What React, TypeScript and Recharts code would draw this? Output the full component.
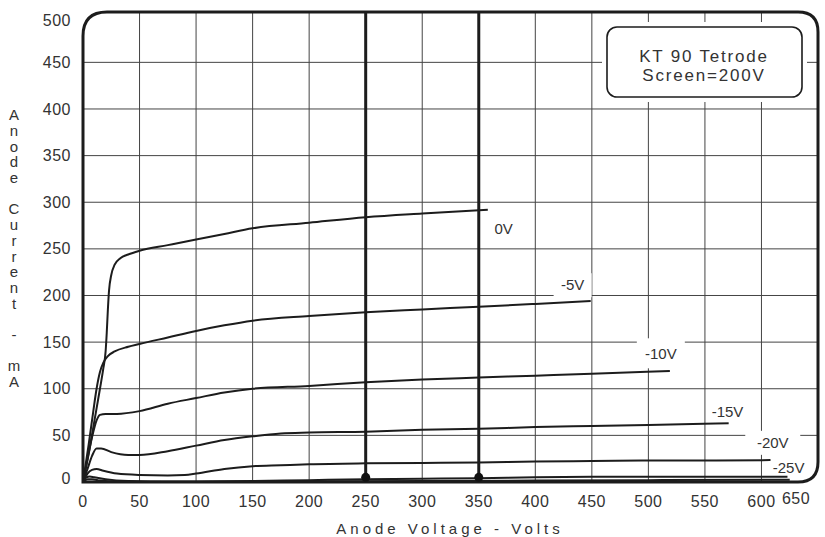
import {
  LineChart,
  Line,
  XAxis,
  YAxis,
  CartesianGrid,
  ReferenceLine,
  ReferenceDot,
  Customized,
} from "recharts"

// Anode voltage (V) / anode current (mA)
const X_TICKS = [0, 50, 100, 150, 200, 250, 300, 350, 400, 450, 500, 550, 600, 650]
const Y_TICKS = [0, 50, 100, 150, 200, 250, 300, 350, 400, 450, 500]

const GRID_0V = [
  [0, 0], [5, 30], [10, 65], [15, 100], [18, 122], [20, 140], [21, 160], [22, 185],
  [23, 205], [25, 222], [28, 233], [33, 240], [40, 244], [50, 248], [75, 254],
  [100, 260], [125, 266], [150, 272], [200, 278], [250, 284], [300, 288], [358, 292],
]
const GRID_5V = [
  [0, 0], [5, 40], [9, 75], [12, 100], [15, 118], [18, 128], [22, 135], [28, 140],
  [40, 145], [50, 148], [75, 155], [100, 162], [125, 168], [150, 173], [200, 178],
  [250, 182], [300, 185], [350, 188], [400, 191], [449, 194],
]
const GRID_10V = [
  [0, 0], [4, 25], [8, 48], [12, 66], [15, 72], [20, 73], [30, 73], [50, 76], [75, 84],
  [100, 90], [125, 96], [150, 100], [200, 103], [250, 107], [300, 110], [350, 112],
  [400, 114], [450, 116], [519, 119],
]
const GRID_15V = [
  [0, 0], [4, 14], [8, 28], [12, 36], [16, 36], [25, 32], [40, 29], [50, 29], [75, 33],
  [100, 39], [125, 45], [150, 49], [175, 52], [200, 53], [250, 54], [300, 56],
  [350, 57], [400, 59], [450, 60], [500, 61], [571, 63],
]
const GRID_20V = [
  [0, 0], [4, 9], [8, 13], [12, 14], [18, 12], [30, 9], [50, 7.5], [75, 7], [90, 7.5],
  [100, 9], [125, 14], [150, 17], [175, 18], [200, 19], [250, 20], [300, 20.5],
  [350, 21], [400, 22], [450, 22.5], [500, 23], [550, 23], [608, 23.5],
]
const GRID_25V = [
  [0, 0], [3, 5], [6, 6], [10, 5], [20, 3], [40, 1], [60, 0.5], [100, 0.5], [150, 1],
  [200, 2], [250, 3], [300, 3.5], [350, 4], [400, 5], [450, 5.5], [500, 5.5],
  [550, 5.6], [623, 5.7],
]
const GRID_30V = [
  [0, 0], [4, 3], [8, 3], [15, 1.5], [30, 0.3], [100, 0], [200, 0.5], [300, 1],
  [400, 1.5], [500, 2], [625, 2.5],
]

const CURVES = [GRID_0V, GRID_5V, GRID_10V, GRID_15V, GRID_20V, GRID_25V, GRID_30V]

const CURVE_LABELS = ["0V", "-5V", "-10V", "-15V", "-20V", "-25V"]
const LABEL_X = [372, 433, 511, 570, 610, 624]
const LABEL_Y = [272, 211, 138, 75, 42, 15]
const LABEL_BOX_W = [30, 38, 48, 40, 55, 40]
const LABEL_BOX_H = [20, 24, 30, 20, 24, 14]

const LOAD_VOLTS = [250, 350]

const TITLE_LINES = ["KT 90 Tetrode", "Screen=200V"]
const Y_LABEL = "Anode Current - mA"
const X_LABEL = "Anode Voltage - Volts"

const W = 825
const H = 537
const MARGIN = { top: 12, right: 7, bottom: 0, left: 0 }
const Y_AXIS_W = 83
const X_AXIS_H = 55
const PLOT_L = MARGIN.left + Y_AXIS_W
const PLOT_T = MARGIN.top
const PLOT_R = W - MARGIN.right
const PLOT_B = H - MARGIN.bottom - X_AXIS_H

const INK = "#1c1c1c"
const TEXT = "#333"
const FONT = "'Liberation Sans', Arial, sans-serif"

const toPoints = (pts: number[][]) => pts.map(([v, i]) => ({ v, i }))

const XTick = ({ x, y, payload }: any) => {
  const last = payload.value === 650
  return (
    <text
      x={x + (last ? -17 : 0)}
      y={y + (last ? -3 : 0)}
      dy="0.71em"
      textAnchor="middle"
      fontSize={16}
      fill={TEXT}
      letterSpacing={0.5}
    >
      {payload.value}
    </text>
  )
}

const YTick = ({ x, y, payload }: any) => {
  // the end labels sit a little inside the frame in the original
  const shift = payload.value === 0 ? -4 : payload.value === 500 ? 5 : 0
  return (
    <text x={x} y={y + shift} dy="0.35em" textAnchor="end" fontSize={16} fill={TEXT} letterSpacing={0.5}>
      {payload.value}
    </text>
  )
}

const CurveLabel = (idx: number) => (props: any) => {
  const { cx, cy } = props
  const w = LABEL_BOX_W[idx]
  const h = LABEL_BOX_H[idx]
  return (
    <g>
      <rect x={cx - w / 2} y={cy - h / 2} width={w} height={h} fill="#fff" />
      <text x={cx} y={cy} dy="0.35em" textAnchor="middle" fontSize={15} fill={TEXT}>
        {CURVE_LABELS[idx]}
      </text>
    </g>
  )
}

const TitleBox = () => (
  <g>
    <rect x={602} y={22} width={205} height={80} fill="#fff" />
    <rect x={607} y={27} width={195} height={70} rx={10} fill="#fff" stroke={INK} strokeWidth={1.6} />
    {TITLE_LINES.map((t, k) => (
      <text
        key={t}
        x={704}
        y={56 + k * 19}
        dy="0.35em"
        textAnchor="middle"
        fontSize={17}
        letterSpacing={1.8}
        fill={TEXT}
      >
        {t}
      </text>
    ))}
  </g>
)

const Frame = () => {
  const rTL = 24
  const rTR = 20
  const rBR = 20
  const d = [
    `M ${PLOT_L} ${PLOT_B}`,
    `L ${PLOT_L} ${PLOT_T + rTL}`,
    `Q ${PLOT_L} ${PLOT_T} ${PLOT_L + rTL} ${PLOT_T}`,
    `L ${PLOT_R - rTR} ${PLOT_T}`,
    `Q ${PLOT_R} ${PLOT_T} ${PLOT_R} ${PLOT_T + rTR}`,
    `L ${PLOT_R} ${PLOT_B - rBR}`,
    `Q ${PLOT_R} ${PLOT_B} ${PLOT_R - rBR} ${PLOT_B}`,
    "Z",
  ].join(" ")
  const chars = Y_LABEL.split("")
  return (
    <g>
      <path d={d} fill="none" stroke={INK} strokeWidth={3} />
      {chars.map((c, k) => (
        <text key={k} x={14} y={115 + k * 15.7} dy="0.35em" textAnchor="middle" fontSize={15} fill={TEXT}>
          {c}
        </text>
      ))}
      <text x={450} y={529} dy="0.35em" textAnchor="middle" fontSize={15} letterSpacing={4} fill={TEXT}>
        {X_LABEL}
      </text>
    </g>
  )
}

export default function App() {
  return (
    <div style={{ position: "absolute", left: 0, top: 0, background: "#fff", fontFamily: FONT }}>
      <LineChart width={W} height={H} margin={MARGIN}>
        <CartesianGrid
          stroke="#444"
          strokeWidth={1}
          verticalValues={X_TICKS.slice(1, -1)}
          horizontalValues={Y_TICKS.slice(1, -1)}
        />
        <XAxis
          dataKey="v"
          type="number"
          domain={[0, 650]}
          ticks={X_TICKS}
          height={X_AXIS_H}
          axisLine={false}
          tickLine={false}
          tickSize={12}
          tick={<XTick />}
          allowDataOverflow
        />
        <YAxis
          type="number"
          domain={[0, 504]}
          ticks={Y_TICKS}
          width={Y_AXIS_W}
          axisLine={false}
          tickLine={false}
          tickSize={10}
          tick={<YTick />}
          allowDataOverflow
        />
        <Customized component={TitleBox} />
        {CURVE_LABELS.map((_, idx) => (
          <ReferenceDot
            key={`lbl-${idx}`}
            x={LABEL_X[idx]}
            y={LABEL_Y[idx]}
            r={0}
            ifOverflow="visible"
            shape={CurveLabel(idx)}
          />
        ))}
        {LOAD_VOLTS.map((v) => (
          <ReferenceLine key={`ll-${v}`} x={v} stroke={INK} strokeWidth={3} />
        ))}
        {CURVES.map((c, idx) => (
          <Line
            key={`curve-${idx}`}
            data={toPoints(c)}
            dataKey="i"
            type="monotone"
            stroke={INK}
            strokeWidth={2}
            dot={false}
            isAnimationActive={false}
          />
        ))}
        {LOAD_VOLTS.map((v) => (
          <ReferenceDot key={`ld-${v}`} x={v} y={5} r={4.5} fill="#111" stroke="none" />
        ))}
        <Customized component={Frame} />
      </LineChart>
    </div>
  )
}
